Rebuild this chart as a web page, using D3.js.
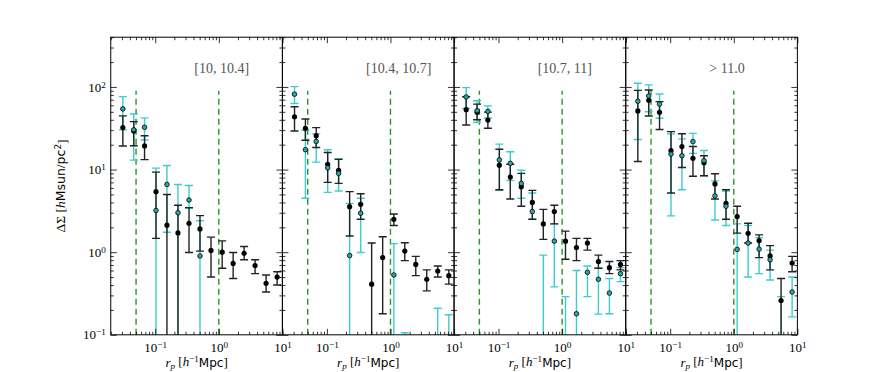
<!DOCTYPE html>
<html>
<head>
<meta charset="utf-8">
<script src="https://cdn.jsdelivr.net/npm/d3@7"></script>
<style>
  body { margin: 0; background: #fff; }
</style>
</head>
<body>
<div id="chart"></div>
<script>
// projected radius bins (h^-1 Mpc), shared by every panel
const rp = [0.031, 0.046, 0.068, 0.103, 0.153, 0.228, 0.340, 0.506, 0.754, 1.13, 1.68, 2.50, 3.72, 5.54, 8.26];

// stellar mass bins, one per panel
const binLabels = ["[10, 10.4]", "[10.4, 10.7]", "[10.7, 11]", "> 11.0"];

// fit range markers
const cutLines = [0.05, 1.0];
const cutTop = 90;

// black points: value, lower end, upper end (0.01 = bar runs off the bottom)
const blackY = [
  [32.2, 29.3, 19.3, 5.4, 2.12, 1.71, 2.24, 1.91, 1.05, 1.0, 0.73, 0.97, 0.69, 0.42, 0.5],
  [43.6, 31.6, 25.7, 11.6, 9.8, 3.55, 3.8, 0.41, 0.86, 2.5, 1.03, 0.71, 0.47, 0.59, 0.52],
  [53, 49.4, 39.7, 11.3, 8.1, 6.2, 4.0, 2.2, 3.1, 1.36, 1.14, 1.29, 0.77, 0.65, 0.71],
  [51.2, 69, 49.4, 17, 19.0, 13.7, 12.1, 6.7, 3.9, 2.7, 1.69, 1.38, 0.9, 0.26, 0.74]
];
const blackLo = [
  [19.3, 19.4, 13.2, 1.47, 0.01, 0.01, 0.99, 1.03, 0.5, 0.64, 0.48, 0.81, 0.55, 0.33, 0.4],
  [29.3, 22.6, 18.5, 7.0, 6.8, 1.57, 2.5, 0.01, 0.18, 2.1, 0.79, 0.52, 0.34, 0.5, 0.41],
  [34.6, 40, 31.6, 5.7, 4.4, 3.6, 2.5, 1.43, 2.2, 0.82, 0.79, 1.06, 0.64, 0.55, 0.61],
  [12.5, 44.5, 30.6, 5.2, 10.6, 8.3, 8.4, 4.4, 2.5, 1.7, 1.29, 0.86, 0.61, 0.01, 0.58]
];
const blackHi = [
  [44.6, 38, 25.7, 9.3, 5.0, 3.7, 3.46, 2.77, 1.52, 1.37, 0.99, 1.17, 0.81, 0.53, 0.58],
  [57.6, 40.9, 32.2, 16.1, 13.3, 5.4, 5.1, 1.29, 1.54, 2.9, 1.30, 0.89, 0.61, 0.68, 0.61],
  [76, 62, 49.6, 17.6, 11.6, 9.0, 5.6, 3.3, 3.7, 1.8, 1.47, 1.47, 0.92, 0.77, 0.79],
  [91, 92, 66.5, 28.8, 27.1, 19, 14.7, 8.9, 5.7, 3.6, 2.24, 1.62, 1.2, 0.48, 0.89]
];

// cyan points (null = not shown; 0.05 = point below the axis)
const cyanY = [
  [54.2, 30.3, 32.5, 3.2, 6.6, 3.0, 4.28, 0.9, null, null, null, null, null, null, null],
  [81.7, 17.4, 21.9, 10.5, 9.0, 0.91, 2.96, null, null, 0.53, 0.05, null, null, 0.05, 0.05],
  [75.7, 51.6, 50.6, 13.1, 11.9, 6.8, 3.1, 0.05, 1.36, 0.05, 0.18, 0.57, 0.47, 0.32, 0.55],
  [67.1, 77.8, 62, 15.4, 14.7, 21.8, 12.8, 4.8, 3.6, 1.08, 1.29, 1.09, 0.81, 0.05, 0.33]
];
const cyanLo = [
  [30.2, 13.0, 22.8, 0.01, 1.74, 0.01, 3.4, 0.01, null, null, null, null, null, null, null],
  [63, 4.5, 12.3, 5.3, 5.5, 0.01, 0.99, null, null, 0.01, 0.01, null, null, 0.01, 0.01],
  [55, 37.3, 42, 5.6, 7.4, 4.5, 2.5, 0.01, 0.38, 0.01, 0.01, 0.29, 0.178, 0.18, 0.44],
  [23.1, 50, 41.8, 2.75, 5.7, 15.7, 8.4, 2.45, 2.1, 0.01, 0.5, 0.55, 0.46, 0.01, 0.165]
];
const cyanHi = [
  [76.3, 47.1, 42.2, 10.4, 11.2, 6.6, 6.4, 2.4, null, null, null, null, null, null, null],
  [101, 29.9, 27, 17.4, 13.5, 3.9, 4.5, null, null, 1.27, 0.106, null, null, 0.21, 0.175],
  [98, 68, 59, 20.3, 16.4, 9.8, 5.2, 0.92, 2.2, 0.29, 0.6, 0.68, 0.64, 0.48, 0.65],
  [111, 106, 82, 27, 23.5, 27.4, 17, 7.3, 5.5, 2.2, 2.1, 1.5, 1.06, 0.29, 0.5]
];

const xMajor = [0.1, 1, 10];
const yMajor = [0.1, 1, 10, 100];

// Layout (matplotlib default subplot box, no horizontal gap)
const width = 886, height = 372;
const margin = { left: 110.75, top: 37.2 };
const panelW = 171.66, panelH = 297.6;
const serif = "'Liberation Serif', 'DejaVu Serif', serif";
const sans = "'DejaVu Sans', 'Liberation Sans', sans-serif";

const svg = d3.select("#chart")
  .append("svg")
  .attr("width", width)
  .attr("height", height)
  .style("font-family", serif);

const x = d3.scaleLog().domain([0.02, 10]).range([0, panelW]);
const y = d3.scaleLog().domain([0.1, 400]).range([panelH, 0]);

const isMajor = d => Math.abs(Math.log10(d) - Math.round(Math.log10(d))) < 1e-6;
const xMinor = x.ticks().filter(d => !isMajor(d));
const yMinor = y.ticks().filter(d => !isMajor(d));

// 10^n labels with a raised exponent
function powLabels(sel) {
  sel.selectAll(".tick text").each(function(d) {
    const e = Math.round(Math.log10(d));
    const t = d3.select(this).text("");
    t.append("tspan").text("10");
    t.append("tspan")
      .attr("dy", "-0.45em")
      .attr("font-size", "0.7em")
      .text(e < 0 ? "\u2212" + (-e) : e);
  });
}

function styleAxis(g) {
  g.select(".domain").remove();
  g.selectAll(".tick line").attr("stroke", "#000").attr("stroke-width", 0.8);
  g.selectAll(".tick text").attr("fill", "#000").style("font-family", serif).style("font-size", "13px");
}

binLabels.forEach((label, i) => {
  const g = svg.append("g")
    .attr("transform", `translate(${margin.left + i * panelW},${margin.top})`);

  g.append("clipPath").attr("id", `clip${i}`)
    .append("rect").attr("width", panelW).attr("height", panelH);

  const plot = g.append("g").attr("clip-path", `url(#clip${i})`);

  // dashed fit range lines
  plot.selectAll(".cut")
    .data(cutLines)
    .enter()
    .append("line")
    .attr("x1", d => x(d)).attr("x2", d => x(d))
    .attr("y1", y(0.1)).attr("y2", y(cutTop))
    .attr("stroke", "#2a922a")
    .attr("stroke-width", 1.4)
    .attr("stroke-dasharray", "6,4");

  const rows = (vals, lo, hi) => rp
    .map((r, j) => ({ r: r, v: vals[j], lo: lo[j], hi: hi[j] }))
    .filter(d => d.v !== null);

  const cyanRows = rows(cyanY[i], cyanLo[i], cyanHi[i]);
  const blackRows = rows(blackY[i], blackLo[i], blackHi[i]);

  function bars(data, color, sw) {
    const b = plot.append("g").attr("stroke", color).attr("stroke-width", sw);
    data.forEach(d => {
      b.append("line")
        .attr("x1", x(d.r)).attr("x2", x(d.r))
        .attr("y1", y(d.lo)).attr("y2", y(d.hi));
      [d.lo, d.hi].forEach(e => {
        b.append("line")
          .attr("x1", x(d.r) - 4).attr("x2", x(d.r) + 4)
          .attr("y1", y(e)).attr("y2", y(e));
      });
    });
  }

  bars(cyanRows, "#3ccccc", 1.4);
  bars(blackRows, "#222", 1.4);

  plot.selectAll(".blk")
    .data(blackRows)
    .enter()
    .append("circle")
    .attr("cx", d => x(d.r))
    .attr("cy", d => y(d.v))
    .attr("r", 2.6)
    .attr("fill", "#000");

  plot.selectAll(".cyn")
    .data(cyanRows)
    .enter()
    .append("circle")
    .attr("cx", d => x(d.r))
    .attr("cy", d => y(d.v))
    .attr("r", 2.3)
    .attr("fill", "#2aa8a8")
    .attr("stroke", "#000")
    .attr("stroke-width", 0.8);

  // ticks on all four sides, pointing inward
  g.append("g").attr("transform", `translate(0,${panelH})`)
    .call(d3.axisBottom(x).tickValues(xMinor).tickSizeInner(-3).tickSizeOuter(0).tickFormat(""))
    .call(styleAxis);
  g.append("g").attr("transform", `translate(0,${panelH})`)
    .call(d3.axisBottom(x).tickValues(xMajor).tickSizeInner(-6).tickSizeOuter(0).tickPadding(8))
    .call(styleAxis)
    .call(powLabels);
  g.append("g")
    .call(d3.axisTop(x).tickValues(xMinor).tickSizeInner(-3).tickSizeOuter(0).tickFormat(""))
    .call(styleAxis);
  g.append("g")
    .call(d3.axisTop(x).tickValues(xMajor).tickSizeInner(-6).tickSizeOuter(0).tickFormat(""))
    .call(styleAxis);

  g.append("g")
    .call(d3.axisLeft(y).tickValues(yMinor).tickSizeInner(-3).tickSizeOuter(0).tickFormat(""))
    .call(styleAxis);
  const left = g.append("g")
    .call(d3.axisLeft(y).tickValues(yMajor).tickSizeInner(-6).tickSizeOuter(0).tickPadding(5))
    .call(styleAxis);
  if (i === 0) left.call(powLabels);
  else left.selectAll(".tick text").remove();

  g.append("g").attr("transform", `translate(${panelW},0)`)
    .call(d3.axisRight(y).tickValues(yMinor).tickSizeInner(-3).tickSizeOuter(0).tickFormat(""))
    .call(styleAxis);
  g.append("g").attr("transform", `translate(${panelW},0)`)
    .call(d3.axisRight(y).tickValues(yMajor).tickSizeInner(-6).tickSizeOuter(0).tickFormat(""))
    .call(styleAxis);

  // frame
  g.append("rect")
    .attr("width", panelW)
    .attr("height", panelH)
    .attr("fill", "none")
    .attr("stroke", "#000")
    .attr("stroke-width", 1);

  // mass bin label
  g.append("text")
    .attr("x", panelW * 0.487)
    .attr("y", 36)
    .attr("fill", "#555")
    .style("font-size", "14px")
    .text(label);

  // x label: r_p [h^-1 Mpc]
  const xl = g.append("text")
    .attr("x", panelW / 2)
    .attr("y", panelH + 32)
    .attr("text-anchor", "middle")
    .style("font-size", "13px");
  xl.append("tspan").style("font-style", "italic").text("r");
  xl.append("tspan").style("font-style", "italic").attr("dy", "0.25em").attr("font-size", "0.7em").text("p");
  xl.append("tspan").attr("dy", "-0.25em").text(" [");
  xl.append("tspan").style("font-style", "italic").text("h");
  xl.append("tspan").attr("dy", "-0.45em").attr("font-size", "0.7em").text("\u22121");
  xl.append("tspan").attr("dy", "0.45em").style("font-family", sans).style("font-size", "12px").text("Mpc");
  xl.append("tspan").text("]");
});

// y label: Delta Sigma [h Msun / pc^2]
const yl = svg.append("text")
  .attr("transform", `translate(65,${margin.top + panelH / 2}) rotate(-90)`)
  .attr("text-anchor", "middle")
  .style("font-size", "13.5px");
yl.append("tspan").text("\u0394\u03A3 [");
yl.append("tspan").style("font-style", "italic").text("h");
yl.append("tspan").style("font-family", sans).style("font-size", "12.5px").text("Msun");
yl.append("tspan").text("/");
yl.append("tspan").style("font-family", sans).style("font-size", "12.5px").text("pc");
yl.append("tspan").attr("dy", "-0.45em").style("font-family", sans).attr("font-size", "0.65em").text("2");
yl.append("tspan").attr("dy", "0.45em").text("]");
</script>
</body>
</html>
